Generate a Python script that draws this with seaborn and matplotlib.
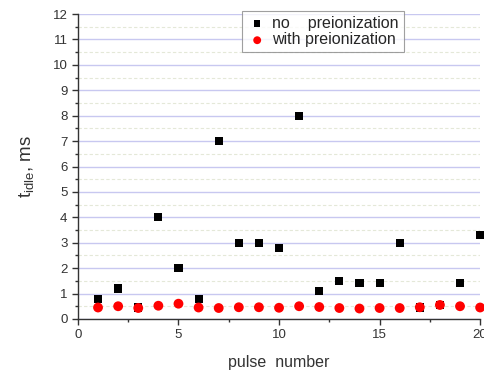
import matplotlib
matplotlib.use("Agg")
import matplotlib.pyplot as plt
from matplotlib.ticker import MultipleLocator
import seaborn as sns
import pandas as pd

pulse = list(range(1, 21))
no_preion = [0.8, 1.2, 0.45, 4.0, 2.0, 0.78, 7.0, 3.0, 3.0, 2.8,
             8.0, 1.1, 1.5, 1.4, 1.4, 3.0, 0.45, 0.55, 1.4, 3.3]
with_preion = [0.45, 0.5, 0.43, 0.52, 0.6, 0.45, 0.43, 0.46, 0.46, 0.44,
               0.5, 0.47, 0.43, 0.41, 0.43, 0.43, 0.46, 0.55, 0.5, 0.45]
series_names = ["no    preionization", "with preionization"]

df = pd.concat([
    pd.DataFrame({"pulse": pulse, "t": no_preion, "series": series_names[0]}),
    pd.DataFrame({"pulse": pulse, "t": with_preion, "series": series_names[1]}),
])

sns.set_style("white")
plt.rcParams["font.family"] = ["Liberation Sans", "DejaVu Sans"]
plt.rcParams["mathtext.fontset"] = "custom"
plt.rcParams["mathtext.rm"] = "Liberation Sans"
plt.rcParams["mathtext.it"] = "Liberation Sans"

fig = plt.figure(figsize=(4.84, 3.70), dpi=100)
ax = fig.add_axes([0.161, 0.138, 0.831, 0.824])

ax.set_xlim(0, 20)
ax.set_ylim(0, 12)
ax.xaxis.set_major_locator(MultipleLocator(5))
ax.xaxis.set_minor_locator(MultipleLocator(2.5))
ax.yaxis.set_major_locator(MultipleLocator(1))
ax.yaxis.set_minor_locator(MultipleLocator(0.5))

ax.grid(True, which="major", axis="y", color="#c8c8f0", linewidth=1.0, linestyle="-")
ax.grid(True, which="minor", axis="y", color="#e4e8d8", linewidth=0.8, linestyle=(0, (3, 2)))
ax.set_axisbelow(True)

palette = {series_names[0]: "black", series_names[1]: "#ff0000"}
markers = {series_names[0]: "s", series_names[1]: "o"}
sizes = {series_names[0]: 34, series_names[1]: 50}

for name in series_names:
    sub = df[df["series"] == name]
    sns.scatterplot(data=sub, x="pulse", y="t", ax=ax, color=palette[name],
                    marker=markers[name], s=sizes[name], edgecolor="none",
                    label=name, clip_on=False, zorder=3)

for s in ["top", "right"]:
    ax.spines[s].set_visible(False)
for s in ["left", "bottom"]:
    ax.spines[s].set_color("#333333")
    ax.spines[s].set_linewidth(1.0)

ax.tick_params(which="major", direction="out", length=4, width=1, color="#333333",
               labelsize=9.5, labelcolor="#333333", left=True, bottom=True)
ax.tick_params(which="minor", direction="out", length=2.5, width=1, color="#333333",
               left=True, bottom=True)

ax.set_xlabel("pulse  number", fontsize=11.5, color="#333333", labelpad=10)
ax.set_ylabel(r"$\mathrm{t}_{\mathrm{idle}}$, ms", fontsize=13.5, color="#333333", labelpad=12)

leg = ax.legend(loc="upper left", bbox_to_anchor=(0.408, 1.01), frameon=True,
                fancybox=False, edgecolor="#888888", fontsize=11.5,
                handletextpad=0.3, borderpad=0.3, labelspacing=0.1,
                handlelength=1.3, borderaxespad=0, markerscale=0.8)
leg.get_frame().set_linewidth(0.8)

fig.savefig("out.png", dpi=100)
